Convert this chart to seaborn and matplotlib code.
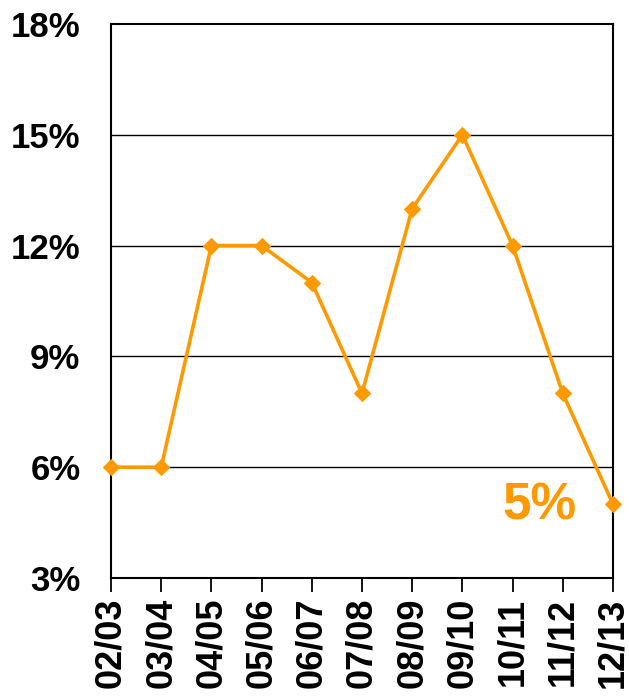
import matplotlib
matplotlib.use("Agg")
import matplotlib.pyplot as plt
import seaborn as sns
import pandas as pd
from matplotlib.ticker import FuncFormatter

# dados
seasons = ["02/03", "03/04", "04/05", "05/06", "06/07", "07/08",
           "08/09", "09/10", "10/11", "11/12", "12/13"]
rates = [6, 6, 12, 12, 11, 8, 13, 15, 12, 8, 5]
y_ticks = [3, 6, 9, 12, 15, 18]
last_label = "5%"

ORANGE = "#FF9900"

sns.set_theme(style="white")
plt.rcParams["font.family"] = ["Liberation Sans", "DejaVu Sans"]

df = pd.DataFrame({"season": seasons, "rate": rates})
df["pos"] = range(len(df))

fig = plt.figure(figsize=(6.29, 6.99), dpi=100)
ax = fig.add_axes([0.1765, 0.1731, 0.798, 0.7926])

sns.lineplot(data=df, x="pos", y="rate", ax=ax, color=ORANGE, linewidth=2.6,
             marker="D", markersize=8.5, markeredgecolor=ORANGE, clip_on=False,
             zorder=5)

ax.set_xlim(0, len(seasons) - 1)
ax.set_ylim(3, 18)
ax.set_yticks(y_ticks)
ax.yaxis.set_major_formatter(FuncFormatter(lambda v, p: f"{v:.0f}%"))
ax.set_xticks(df["pos"])
ax.set_xticklabels(seasons, rotation=90)

for v in y_ticks[1:-1]:
    ax.axhline(v, color="black", linewidth=1, zorder=0)

for s in ax.spines.values():
    s.set_color("black")
    s.set_linewidth(1.5)

ax.tick_params(axis="x", bottom=True, length=10, width=1.3, color="black",
               labelsize=26, pad=4)
ax.tick_params(axis="y", left=False, labelsize=25, pad=16)
for lbl in ax.get_xticklabels() + ax.get_yticklabels():
    lbl.set_fontweight("bold")
    lbl.set_color("black")

ax.set_xlabel("")
ax.set_ylabel("")

ax.text(8.53, 4.95, last_label, color=ORANGE, fontsize=37, fontweight="bold",
        ha="center", va="center")

fig.savefig("out.png", dpi=100)
